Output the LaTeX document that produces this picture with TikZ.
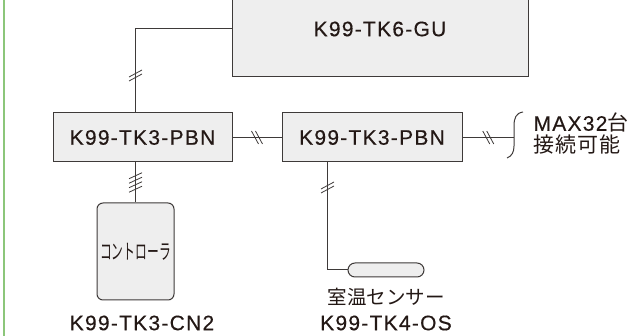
\documentclass[tikz,border=0pt]{standalone}
\usepackage{graphicx}
\usepackage{fontspec}
\setmainfont{Liberation Sans}[LetterSpace=6, FakeBold=0.4]
\newfontfamily\jpfont{Noto Sans CJK JP}
\newfontfamily\jpwide{Noto Sans CJK JP}[LetterSpace=5]
\usepackage{tikz}
\usetikzlibrary{decorations.markings}
\definecolor{Wire}   {HTML}{3E3A39}
\definecolor{BoxFill}{HTML}{EEEEEE}
\definecolor{Frame}  {HTML}{8CC67A}
\definecolor{Ink}    {HTML}{231815}

\begin{document}
\begin{tikzpicture}[x=1pt, y=1pt, font=\fontsize{21}{21.5}\selectfont,
  unit/.style={draw=Wire, fill=BoxFill, line width=1pt, inner sep=0pt, text=Ink},
  wire/.style={Wire, line width=1pt},
  cut2/.style={postaction={decorate, decoration={markings,
      mark=at position #1 with {\foreach \d in {-2,2}
        \draw[Wire, line width=0.8pt] (\d-3.5,6.5) -- (\d+3.5,-6.5);}}}},
  cut4/.style={postaction={decorate, decoration={markings,
      mark=at position #1 with {\foreach \d in {-6.75,-2.25,2.25,6.75}
        \draw[Wire, line width=0.8pt] (\d-3,6.5) -- (\d+3,-6.5);}}}}]
  \useasboundingbox (0,0) rectangle (629,-336);
  \clip (0,0) rectangle (629,-336);
  % Frame line on the left
  \draw[Frame, line width=1.5pt] (4,0) -- (4,-336);
  % Units
  \node[unit, minimum width=296pt, minimum height=96pt] (gu) at (380,-29) {\raisebox{-3pt}{K99-TK6-GU}};
  \node[unit, minimum width=179pt, minimum height=49pt] (pbn1) at (142.5,-137.5) {K99-TK3-PBN};
  \node[unit, minimum width=180pt, minimum height=49pt] (pbn2) at (372,-137.5) {K99-TK3-PBN};
  \node[unit, rounded corners=6pt, minimum width=77pt, minimum height=97pt]
        (ctrl) at (135.5,-251.5) {\scalebox{0.56}[1]{\jpfont\fontsize{21}{21}\selectfont コントローラ}};
  \node[unit, rounded corners=7pt, minimum width=76pt, minimum height=14pt] (sensor) at (386,-270) {};
  % Labels
  \node[text=Ink] (ctrlname) at (142,-323) {K99-TK3-CN2};
  \node[text=Ink, font=\jpfont\fontsize{19.5}{19.5}\selectfont] (sensorjp) at (386,-297) {室温センサー};
  \node[text=Ink] (sensorname) at (386,-323) {K99-TK4-OS};
  \node[text=Ink, align=left, anchor=west] (maxnote) at (530,-133.5) {MAX32{\jpfont 台}\\{\jpwide 接続可能}};
  % Connectors
  \coordinate (brc) at (514,-137.5);
  \draw[wire, cut2=-37pt] (gu.west) -| (ctrl.north |- pbn1.north);
  \draw[wire, cut2=0.5] (pbn1) -- (pbn2);
  \draw[wire, cut2=0.5] (pbn2) -- (brc);
  \draw[wire, cut4=0.5] (ctrl.north |- pbn1.south) -- (ctrl);
  \draw[wire, cut2=25pt] ([xshift=46pt]pbn2.south west) |- (sensor.west);
  % Brace
  \draw[wire] (523,-112) .. controls (516,-113) and (514,-118) .. (514,-126)
    -- (514,-146) .. controls (514,-152) and (512,-156) .. (507,-158);
\end{tikzpicture}
\end{document}
